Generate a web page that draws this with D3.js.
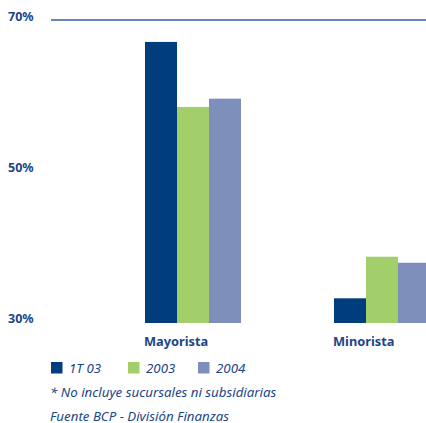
<!DOCTYPE html>
<html>
<head>
<meta charset="utf-8">
<script src="https://cdn.jsdelivr.net/npm/d3@7"></script>
<style>
  html, body { margin: 0; padding: 0; background: #fff; }
  svg { display: block; }
  text { font-family: "Noto Sans", sans-serif; }
</style>
</head>
<body>
<svg id="chart" width="426" height="423"></svg>
<script>
// Segment shares (%)
const categories = ["Mayorista", "Minorista"];
const series = ["1T 03", "2003", "2004"];
const values1T03 = [67.1, 33.2];
const values2003 = [58.5, 38.7];
const values2004 = [59.6, 37.9];
const yTicks = [30, 50, 70];
const yTickLabels = ["30%", "50%", "70%"];
const footnotes = ["* No incluye sucursales ni subsidiarias", "Fuente BCP - División Finanzas"];

const seriesValues = [values1T03, values2003, values2004];
const colors = ["#003d7c", "#a3cf6a", "#7f8fbb"];
const textColor = "#1c4587";

const svg = d3.select("#chart");

const y = d3.scaleLinear().domain([30, 70]).range([322.5, 20]);
const x0 = d3.scaleBand().domain(categories).range([145, 430]).paddingInner(0.492).paddingOuter(0);
const x1 = d3.scaleBand().domain(series).range([0, x0.bandwidth()]);

// top reference line at 70%
svg.append("line")
  .attr("x1", 51).attr("x2", 426)
  .attr("y1", y(70)).attr("y2", y(70))
  .attr("stroke", "#2f61a9").attr("stroke-width", 1.3);

// y axis labels, left-aligned
const yAxis = d3.axisLeft(y)
  .tickValues(yTicks)
  .tickFormat((d, i) => yTickLabels[i])
  .tickSize(0).tickPadding(0);
const gy = svg.append("g").attr("transform", "translate(8,0)").call(yAxis);
gy.select(".domain").remove();
gy.selectAll("text")
  .attr("dy", null)
  .attr("text-anchor", "start")
  .attr("fill", textColor)
  .style("font-size", "12.5px")
  .style("font-weight", "bold")
  .style("font-family", "'Noto Sans', sans-serif");

// bars
const groups = svg.append("g").selectAll("g")
  .data(categories)
  .join("g")
  .attr("transform", d => `translate(${x0(d)},0)`);

groups.selectAll("rect")
  .data((c, ci) => series.map((s, si) => ({ s, si, v: seriesValues[si][ci] })))
  .join("rect")
  .attr("x", d => x1(d.s))
  .attr("width", x1.bandwidth())
  .attr("y", d => y(d.v))
  .attr("height", d => y(30) - y(d.v) + 0.5)
  .attr("fill", d => colors[d.si]);

// category labels
svg.append("g").selectAll("text")
  .data(categories)
  .join("text")
  .attr("x", d => x0(d) - 1)
  .attr("y", 345.5)
  .attr("fill", textColor)
  .style("font-size", "12.8px")
  .style("font-weight", "bold")
  .text(d => d);

// legend
const legendX = [51, 128, 198];
const legend = svg.append("g").selectAll("g")
  .data(series)
  .join("g")
  .attr("transform", (d, i) => `translate(${legendX[i]},362)`);
legend.append("rect")
  .attr("width", 11.5).attr("height", 11.5)
  .attr("fill", (d, i) => colors[i]);
legend.append("text")
  .attr("x", 18).attr("y", 11)
  .attr("fill", textColor)
  .style("font-size", "13.3px")
  .style("font-style", "italic")
  .text(d => d);

// notes
svg.append("g").selectAll("text")
  .data(footnotes)
  .join("text")
  .attr("x", 50)
  .attr("y", (d, i) => 397 + i * 23.5)
  .attr("fill", textColor)
  .style("font-size", "13.3px")
  .style("font-style", "italic")
  .text(d => d);
</script>
</body>
</html>
